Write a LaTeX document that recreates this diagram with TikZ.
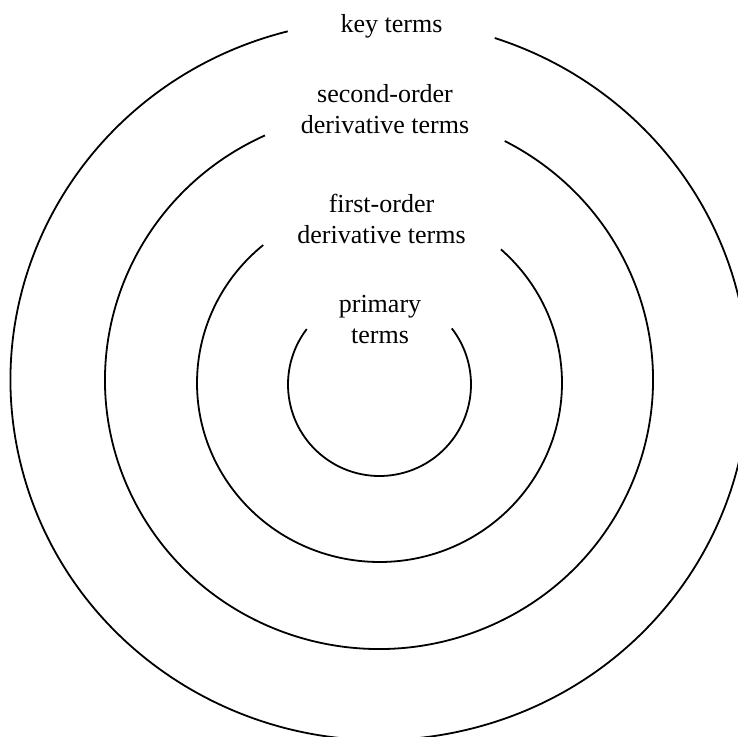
\documentclass[tikz,border=0pt]{standalone}
\usepackage{fontspec}
\setmainfont{Liberation Serif}
\begin{document}
\begin{tikzpicture}[x=1pt,y=1pt,
  ring/.style={line width=1.8pt, black},
  label/.style={align=center, font=\fontsize{26}{31}\selectfont, inner sep=0pt, anchor=base}]
  \useasboundingbox[fill=white] (0,-736) rectangle (738,0);

  % centres of the four rings
  \coordinate (c1) at (379.5,-380);
  \coordinate (c2) at (379,-380);
  \coordinate (c3) at (379.5,-383);
  \coordinate (c4) at (379.5,-384.5);

  % rings, each open at the top where its label sits
  \draw[ring] (c1) ++(104.4:369 and 360) arc[start angle=104.4, end angle=431.8, x radius=369, y radius=360];
  \draw[ring] (c2) ++(114.6:274 and 269) arc[start angle=114.6, end angle=422.7, x radius=274, y radius=269];
  \draw[ring] (c3) ++(129.6:182.5 and 179) arc[start angle=129.6, end angle=408.3, x radius=182.5, y radius=179];
  \draw[ring] (c4) ++(142.7:91.5) arc[start angle=142.7, end angle=397.8, radius=91.5];

  % labels (base anchor sits on the last line)
  \node[label] (key) at (391.5,-32) {key terms};
  \node[label] (second) at (385,-133) {second-order\\derivative terms};
  \node[label] (first) at (381.5,-243) {first-order\\derivative terms};
  \node[label] (primary) at (380,-343) {primary\\terms};
\end{tikzpicture}
\end{document}
